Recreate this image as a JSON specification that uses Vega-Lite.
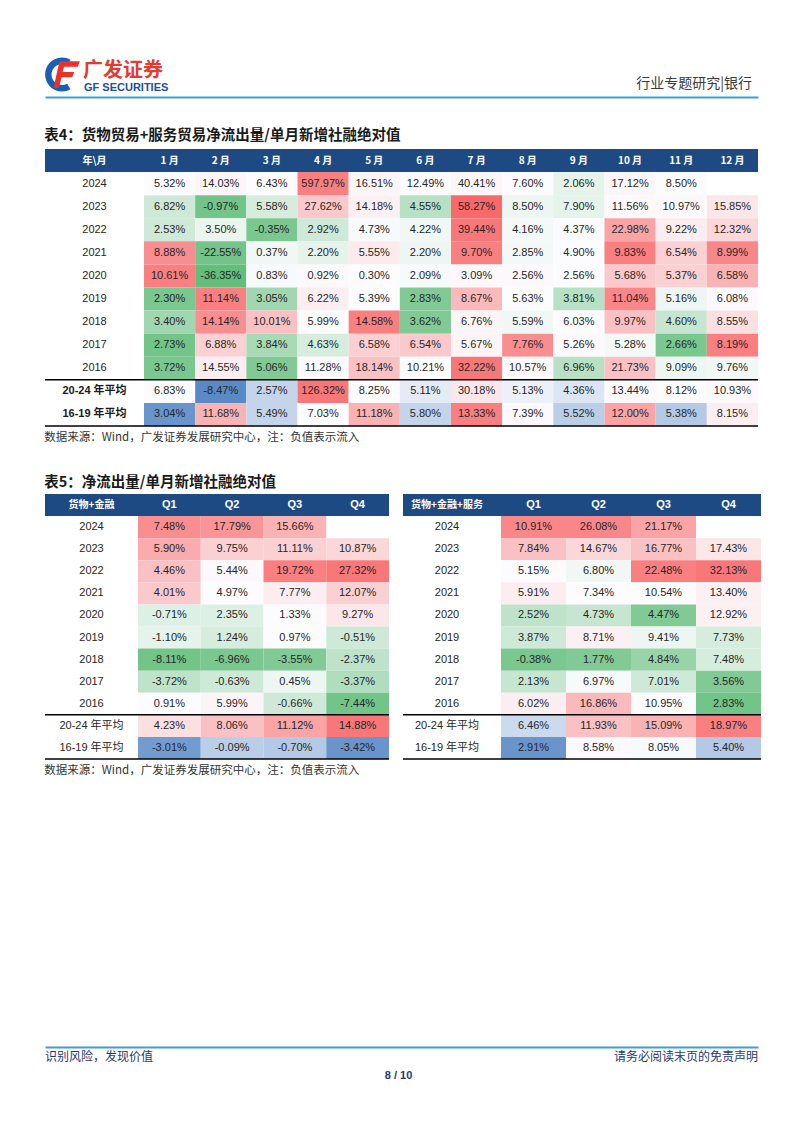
{
"$schema":"https://vega.github.io/schema/vega-lite/v6.json",
"background":"white",
"padding":{"left":44,"top":52,"right":0,"bottom":0},
"config":{"view":{"stroke":null},"locale":{"number":{"decimal":".","thousands":",","grouping":[3],"currency":["$",""],"minus":"-"}},"text":{"font":"Liberation Sans, Noto Sans CJK SC"},"title":{"font":"Noto Sans CJK SC"}},
"datasets":{
"t4":[
{"r":"2024","c":"1 月","v":0.0532,"h":0},{"r":"2024","c":"2 月","v":0.1403,"h":0.04},{"r":"2024","c":"3 月","v":0.0643,"h":0},{"r":"2024","c":"4 月","v":5.9797,"h":0.85},{"r":"2024","c":"5 月","v":0.1651,"h":0.05},{"r":"2024","c":"6 月","v":0.1249,"h":0},{"r":"2024","c":"7 月","v":0.4041,"h":0.04},{"r":"2024","c":"8 月","v":0.076,"h":0},{"r":"2024","c":"9 月","v":0.0206,"h":-0.15},{"r":"2024","c":"10 月","v":0.1712,"h":0.04},{"r":"2024","c":"11 月","v":0.085,"h":0},
{"r":"2023","c":"1 月","v":0.0682,"h":-0.3},{"r":"2023","c":"2 月","v":-0.0097,"h":-0.9},{"r":"2023","c":"3 月","v":0.0558,"h":-0.25},{"r":"2023","c":"4 月","v":0.2762,"h":0.35},{"r":"2023","c":"5 月","v":0.1418,"h":0.08},{"r":"2023","c":"6 月","v":0.0455,"h":-0.45},{"r":"2023","c":"7 月","v":0.5827,"h":1},{"r":"2023","c":"8 月","v":0.085,"h":-0.1},{"r":"2023","c":"9 月","v":0.079,"h":-0.15},{"r":"2023","c":"10 月","v":0.1156,"h":0.03},{"r":"2023","c":"11 月","v":0.1097,"h":0.02},{"r":"2023","c":"12 月","v":0.1585,"h":0.15},
{"r":"2022","c":"1 月","v":0.0253,"h":-0.3},{"r":"2022","c":"2 月","v":0.035,"h":-0.12},{"r":"2022","c":"3 月","v":-0.0035,"h":-0.85},{"r":"2022","c":"4 月","v":0.0292,"h":-0.3},{"r":"2022","c":"5 月","v":0.0473,"h":-0.03},{"r":"2022","c":"6 月","v":0.0422,"h":-0.08},{"r":"2022","c":"7 月","v":0.3944,"h":0.9},{"r":"2022","c":"8 月","v":0.0416,"h":-0.05},{"r":"2022","c":"9 月","v":0.0437,"h":-0.02},{"r":"2022","c":"10 月","v":0.2298,"h":0.6},{"r":"2022","c":"11 月","v":0.0922,"h":0.1},{"r":"2022","c":"12 月","v":0.1232,"h":0.25},
{"r":"2021","c":"1 月","v":0.0888,"h":0.75},{"r":"2021","c":"2 月","v":-0.2255,"h":-0.9},{"r":"2021","c":"3 月","v":0.0037,"h":-0.08},{"r":"2021","c":"4 月","v":0.022,"h":-0.15},{"r":"2021","c":"5 月","v":0.0555,"h":0.12},{"r":"2021","c":"6 月","v":0.022,"h":-0.1},{"r":"2021","c":"7 月","v":0.097,"h":0.85},{"r":"2021","c":"8 月","v":0.0285,"h":-0.05},{"r":"2021","c":"9 月","v":0.049,"h":0},{"r":"2021","c":"10 月","v":0.0983,"h":0.85},{"r":"2021","c":"11 月","v":0.0654,"h":0.3},{"r":"2021","c":"12 月","v":0.0899,"h":0.8},
{"r":"2020","c":"1 月","v":0.1061,"h":0.85},{"r":"2020","c":"2 月","v":-0.3635,"h":-1},{"r":"2020","c":"3 月","v":0.0083,"h":-0.03},{"r":"2020","c":"4 月","v":0.0092,"h":0.02},{"r":"2020","c":"5 月","v":0.003,"h":0},{"r":"2020","c":"6 月","v":0.0209,"h":-0.03},{"r":"2020","c":"7 月","v":0.0309,"h":0.03},{"r":"2020","c":"8 月","v":0.0256,"h":0.02},{"r":"2020","c":"9 月","v":0.0256,"h":0},{"r":"2020","c":"10 月","v":0.0568,"h":0.35},{"r":"2020","c":"11 月","v":0.0537,"h":0.3},{"r":"2020","c":"12 月","v":0.0658,"h":0.5},
{"r":"2019","c":"1 月","v":0.023,"h":-0.85},{"r":"2019","c":"2 月","v":0.1114,"h":0.85},{"r":"2019","c":"3 月","v":0.0305,"h":-0.6},{"r":"2019","c":"4 月","v":0.0622,"h":0.1},{"r":"2019","c":"5 月","v":0.0539,"h":0},{"r":"2019","c":"6 月","v":0.0283,"h":-0.8},{"r":"2019","c":"7 月","v":0.0867,"h":0.45},{"r":"2019","c":"8 月","v":0.0563,"h":0},{"r":"2019","c":"9 月","v":0.0381,"h":-0.45},{"r":"2019","c":"10 月","v":0.1104,"h":0.8},{"r":"2019","c":"11 月","v":0.0516,"h":-0.1},{"r":"2019","c":"12 月","v":0.0608,"h":0.02},
{"r":"2018","c":"1 月","v":0.034,"h":-0.6},{"r":"2018","c":"2 月","v":0.1414,"h":0.75},{"r":"2018","c":"3 月","v":0.1001,"h":0.4},{"r":"2018","c":"4 月","v":0.0599,"h":0},{"r":"2018","c":"5 月","v":0.1458,"h":0.85},{"r":"2018","c":"6 月","v":0.0362,"h":-0.8},{"r":"2018","c":"7 月","v":0.0676,"h":0.05},{"r":"2018","c":"8 月","v":0.0559,"h":-0.08},{"r":"2018","c":"9 月","v":0.0603,"h":0},{"r":"2018","c":"10 月","v":0.0997,"h":0.4},{"r":"2018","c":"11 月","v":0.046,"h":-0.35},{"r":"2018","c":"12 月","v":0.0855,"h":0.2},
{"r":"2017","c":"1 月","v":0.0273,"h":-0.9},{"r":"2017","c":"2 月","v":0.0688,"h":0.3},{"r":"2017","c":"3 月","v":0.0384,"h":-0.55},{"r":"2017","c":"4 月","v":0.0463,"h":-0.25},{"r":"2017","c":"5 月","v":0.0658,"h":0.3},{"r":"2017","c":"6 月","v":0.0654,"h":0.35},{"r":"2017","c":"7 月","v":0.0567,"h":0.05},{"r":"2017","c":"8 月","v":0.0776,"h":0.75},{"r":"2017","c":"9 月","v":0.0526,"h":0.02},{"r":"2017","c":"10 月","v":0.0528,"h":-0.05},{"r":"2017","c":"11 月","v":0.0266,"h":-0.85},{"r":"2017","c":"12 月","v":0.0819,"h":0.85},
{"r":"2016","c":"1 月","v":0.0372,"h":-0.85},{"r":"2016","c":"2 月","v":0.1455,"h":0.1},{"r":"2016","c":"3 月","v":0.0506,"h":-0.8},{"r":"2016","c":"4 月","v":0.1128,"h":0.02},{"r":"2016","c":"5 月","v":0.1814,"h":0.4},{"r":"2016","c":"6 月","v":0.1021,"h":0},{"r":"2016","c":"7 月","v":0.3222,"h":0.9},{"r":"2016","c":"8 月","v":0.1057,"h":0.02},{"r":"2016","c":"9 月","v":0.0696,"h":-0.45},{"r":"2016","c":"10 月","v":0.2173,"h":0.4},{"r":"2016","c":"11 月","v":0.0909,"h":-0.1},{"r":"2016","c":"12 月","v":0.0976,"h":-0.08}
],
"t4a":[
{"r":"20-24 年平均","c":"1 月","v":0.0683,"h":0},{"r":"20-24 年平均","c":"2 月","v":-0.0847,"h":-1},{"r":"20-24 年平均","c":"3 月","v":0.0257,"h":-0.35},{"r":"20-24 年平均","c":"4 月","v":1.2632,"h":0.9},{"r":"20-24 年平均","c":"5 月","v":0.0825,"h":0},{"r":"20-24 年平均","c":"6 月","v":0.0511,"h":-0.15},{"r":"20-24 年平均","c":"7 月","v":0.3018,"h":0.15},{"r":"20-24 年平均","c":"8 月","v":0.0513,"h":-0.1},{"r":"20-24 年平均","c":"9 月","v":0.0436,"h":-0.2},{"r":"20-24 年平均","c":"10 月","v":0.1344,"h":0.02},{"r":"20-24 年平均","c":"11 月","v":0.0812,"h":0},{"r":"20-24 年平均","c":"12 月","v":0.1093,"h":0.03},
{"r":"16-19 年平均","c":"1 月","v":0.0304,"h":-0.9},{"r":"16-19 年平均","c":"2 月","v":0.1168,"h":0.5},{"r":"16-19 年平均","c":"3 月","v":0.0549,"h":-0.35},{"r":"16-19 年平均","c":"4 月","v":0.0703,"h":0},{"r":"16-19 年平均","c":"5 月","v":0.1118,"h":0.5},{"r":"16-19 年平均","c":"6 月","v":0.058,"h":-0.35},{"r":"16-19 年平均","c":"7 月","v":0.1333,"h":0.85},{"r":"16-19 年平均","c":"8 月","v":0.0739,"h":0.03},{"r":"16-19 年平均","c":"9 月","v":0.0552,"h":-0.4},{"r":"16-19 年平均","c":"10 月","v":0.12,"h":0.6},{"r":"16-19 年平均","c":"11 月","v":0.0538,"h":-0.45},{"r":"16-19 年平均","c":"12 月","v":0.0815,"h":0.1}
],
"t5a":[
{"r":"2024","c":"Q1","v":0.0748,"h":0.75},{"r":"2024","c":"Q2","v":0.1779,"h":0.7},{"r":"2024","c":"Q3","v":0.1566,"h":0.5},
{"r":"2023","c":"Q1","v":0.059,"h":0.55},{"r":"2023","c":"Q2","v":0.0975,"h":0.3},{"r":"2023","c":"Q3","v":0.1111,"h":0.3},{"r":"2023","c":"Q4","v":0.1087,"h":0.25},
{"r":"2022","c":"Q1","v":0.0446,"h":0.4},{"r":"2022","c":"Q2","v":0.0544,"h":0.03},{"r":"2022","c":"Q3","v":0.1972,"h":0.85},{"r":"2022","c":"Q4","v":0.2732,"h":0.9},
{"r":"2021","c":"Q1","v":0.0401,"h":0.35},{"r":"2021","c":"Q2","v":0.0497,"h":0},{"r":"2021","c":"Q3","v":0.0777,"h":0.1},{"r":"2021","c":"Q4","v":0.1207,"h":0.3},
{"r":"2020","c":"Q1","v":-0.0071,"h":-0.2},{"r":"2020","c":"Q2","v":0.0235,"h":-0.2},{"r":"2020","c":"Q3","v":0.0133,"h":0},{"r":"2020","c":"Q4","v":0.0927,"h":0.15},
{"r":"2019","c":"Q1","v":-0.011,"h":-0.15},{"r":"2019","c":"Q2","v":0.0124,"h":-0.25},{"r":"2019","c":"Q3","v":0.0097,"h":0},{"r":"2019","c":"Q4","v":-0.0051,"h":-0.3},
{"r":"2018","c":"Q1","v":-0.0811,"h":-0.9},{"r":"2018","c":"Q2","v":-0.0696,"h":-0.85},{"r":"2018","c":"Q3","v":-0.0355,"h":-0.8},{"r":"2018","c":"Q4","v":-0.0237,"h":-0.4},
{"r":"2017","c":"Q1","v":-0.0372,"h":-0.4},{"r":"2017","c":"Q2","v":-0.0063,"h":-0.3},{"r":"2017","c":"Q3","v":0.0045,"h":-0.1},{"r":"2017","c":"Q4","v":-0.0337,"h":-0.5},
{"r":"2016","c":"Q1","v":0.0091,"h":0},{"r":"2016","c":"Q2","v":0.0599,"h":0.05},{"r":"2016","c":"Q3","v":-0.0066,"h":-0.3},{"r":"2016","c":"Q4","v":-0.0744,"h":-0.9}
],
"t5aa":[
{"r":"20-24 年平均","c":"Q1","v":0.0423,"h":0.2},{"r":"20-24 年平均","c":"Q2","v":0.0806,"h":0.4},{"r":"20-24 年平均","c":"Q3","v":0.1112,"h":0.6},{"r":"20-24 年平均","c":"Q4","v":0.1488,"h":0.9},
{"r":"16-19 年平均","c":"Q1","v":-0.0301,"h":-0.85},{"r":"16-19 年平均","c":"Q2","v":-0.0009,"h":-0.4},{"r":"16-19 年平均","c":"Q3","v":-0.007,"h":-0.45},{"r":"16-19 年平均","c":"Q4","v":-0.0342,"h":-0.9}
],
"t5b":[
{"r":"2024","c":"Q1","v":0.1091,"h":0.8},{"r":"2024","c":"Q2","v":0.2608,"h":0.8},{"r":"2024","c":"Q3","v":0.2117,"h":0.6},
{"r":"2023","c":"Q1","v":0.0784,"h":0.4},{"r":"2023","c":"Q2","v":0.1467,"h":0.25},{"r":"2023","c":"Q3","v":0.1677,"h":0.4},{"r":"2023","c":"Q4","v":0.1743,"h":0.15},
{"r":"2022","c":"Q1","v":0.0515,"h":0},{"r":"2022","c":"Q2","v":0.068,"h":-0.08},{"r":"2022","c":"Q3","v":0.2248,"h":0.85},{"r":"2022","c":"Q4","v":0.3213,"h":0.9},
{"r":"2021","c":"Q1","v":0.0591,"h":0.1},{"r":"2021","c":"Q2","v":0.0734,"h":0},{"r":"2021","c":"Q3","v":0.1054,"h":0.01},{"r":"2021","c":"Q4","v":0.134,"h":0.08},
{"r":"2020","c":"Q1","v":0.0252,"h":-0.4},{"r":"2020","c":"Q2","v":0.0473,"h":-0.35},{"r":"2020","c":"Q3","v":0.0447,"h":-0.8},{"r":"2020","c":"Q4","v":0.1292,"h":0.08},
{"r":"2019","c":"Q1","v":0.0387,"h":-0.3},{"r":"2019","c":"Q2","v":0.0871,"h":0.08},{"r":"2019","c":"Q3","v":0.0941,"h":-0.1},{"r":"2019","c":"Q4","v":0.0773,"h":-0.25},
{"r":"2018","c":"Q1","v":-0.0038,"h":-0.85},{"r":"2018","c":"Q2","v":0.0177,"h":-0.8},{"r":"2018","c":"Q3","v":0.0484,"h":-0.65},{"r":"2018","c":"Q4","v":0.0748,"h":-0.25},
{"r":"2017","c":"Q1","v":0.0213,"h":-0.35},{"r":"2017","c":"Q2","v":0.0697,"h":-0.03},{"r":"2017","c":"Q3","v":0.0701,"h":-0.3},{"r":"2017","c":"Q4","v":0.0356,"h":-0.8},
{"r":"2016","c":"Q1","v":0.0602,"h":0.1},{"r":"2016","c":"Q2","v":0.1686,"h":0.45},{"r":"2016","c":"Q3","v":0.1095,"h":0},{"r":"2016","c":"Q4","v":0.0283,"h":-0.9}
],
"t5ba":[
{"r":"20-24 年平均","c":"Q1","v":0.0646,"h":-0.3},{"r":"20-24 年平均","c":"Q2","v":0.1193,"h":0.4},{"r":"20-24 年平均","c":"Q3","v":0.1509,"h":0.5},{"r":"20-24 年平均","c":"Q4","v":0.1897,"h":0.85},
{"r":"16-19 年平均","c":"Q1","v":0.0291,"h":-0.9},{"r":"16-19 年平均","c":"Q2","v":0.0858,"h":0.02},{"r":"16-19 年平均","c":"Q3","v":0.0805,"h":-0.03},{"r":"16-19 年平均","c":"Q4","v":0.054,"h":-0.45}
],
"years":[{"r":"2024"},{"r":"2023"},{"r":"2022"},{"r":"2021"},{"r":"2020"},{"r":"2019"},{"r":"2018"},{"r":"2017"},{"r":"2016"}],
"avgs":[{"r":"20-24 年平均"},{"r":"16-19 年平均"}]
},
"spacing":30,
"vconcat":[
{
"width":713,"height":45,
"layer":[
{"data":{"values":[{"p":"L","t":"logo-ring"}]},"mark":{"type":"point","shape":"M1.5,-0.87 A1,1 0 1 0 1.5,0.87 L1.31,0.54 A0.62,0.62 0 1 1 1.31,-0.54 Z","size":1156,"filled":true,"color":"#1a5fb4","opacity":1,"strokeWidth":0},"encoding":{"x":{"field":"p","type":"nominal","scale":{"type":"point","domain":["L","R"],"padding":0},"axis":{"orient":"bottom","domainColor":"#3d9fd6","domainWidth":2,"labels":false,"ticks":false,"title":null,"grid":false}}}},
{"data":{"values":[{"p":"L","t":"logo-f"}]},"mark":{"type":"point","shape":"M0.85,-0.78 L2.05,-0.78 L1.93,-0.46 L1.12,-0.46 L1.04,-0.14 L1.72,-0.14 L1.6,0.16 L0.97,0.16 L0.82,0.8 L0.5,0.8 Z","size":1156,"filled":true,"color":"#e8332a","opacity":1,"strokeWidth":0},"encoding":{"x":{"field":"p","type":"nominal","scale":{"type":"point","domain":["L","R"],"padding":0},"axis":{"orient":"bottom","domainColor":"#3d9fd6","domainWidth":2,"labels":false,"ticks":false,"title":null,"grid":false}}}},
{"data":{"values":[{"p":"L","t":"广发证券"}]},"mark":{"type":"text","font":"Noto Sans CJK SC","fontWeight":"bold","fontSize":20,"color":"#e23b30","align":"left","baseline":"middle","dx":38,"dy":-4},"encoding":{"x":{"field":"p","type":"nominal","scale":{"type":"point","domain":["L","R"],"padding":0},"axis":{"orient":"bottom","domainColor":"#3d9fd6","domainWidth":2,"labels":false,"ticks":false,"title":null,"grid":false}},"text":{"field":"t"}}},
{"data":{"values":[{"p":"L","t":"GF SECURITIES"}]},"mark":{"type":"text","font":"Liberation Sans","fontWeight":"bold","fontSize":11,"color":"#1d4f9c","align":"left","baseline":"middle","dx":39,"dy":13},"encoding":{"x":{"field":"p","type":"nominal","scale":{"type":"point","domain":["L","R"],"padding":0},"axis":{"orient":"bottom","domainColor":"#3d9fd6","domainWidth":2,"labels":false,"ticks":false,"title":null,"grid":false}},"text":{"field":"t"}}},
{"data":{"values":[{"p":"R","t":"行业专题研究|银行"}]},"mark":{"type":"text","font":"Noto Sans CJK SC","fontSize":14,"color":"#3b3b3b","align":"right","baseline":"middle","dx":-6,"dy":9.5},"encoding":{"x":{"field":"p","type":"nominal","scale":{"type":"point","domain":["L","R"],"padding":0},"axis":{"orient":"bottom","domainColor":"#3d9fd6","domainWidth":2,"labels":false,"ticks":false,"title":null,"grid":false}},"text":{"field":"t"}}}
]
},
{
"title":{"text":"表4：货物贸易+服务贸易净流出量/单月新增社融绝对值","anchor":"start","fontSize":14.5,"fontWeight":"bold","color":"#1a1a1a","offset":6},
"spacing":0,"bounds":"flush",
"hconcat":[
{
"width":99,"height":277,
"title":{"text":"数据来源：Wind，广发证券发展研究中心，注：负值表示流入","orient":"bottom","anchor":"start","fontSize":11.5,"fontWeight":"normal","color":"#333333","offset":5},
"layer":[
{"data":{"values":[{"r":"hdr"}]},"mark":{"type":"rect","color":"#1e4a84"},"encoding":{"y":{"field":"r","type":"nominal","scale":{"type":"band","domain":["hdr","2024","2023","2022","2021","2020","2019","2018","2017","2016","20-24 年平均","16-19 年平均"],"paddingInner":0,"paddingOuter":0},"axis":null}}},
{"data":{"values":[{"r":"hdr","t":"年\\月"}]},"mark":{"type":"text","color":"#ffffff","fontWeight":"bold","fontSize":10,"font":"Noto Sans CJK SC"},"encoding":{"y":{"field":"r","type":"nominal","scale":{"type":"band","domain":["hdr","2024","2023","2022","2021","2020","2019","2018","2017","2016","20-24 年平均","16-19 年平均"],"paddingInner":0,"paddingOuter":0},"axis":null},"text":{"field":"t"}}},
{"data":{"name":"years"},"mark":{"type":"text","color":"#262626","fontSize":11},"encoding":{"y":{"field":"r","type":"nominal","scale":{"type":"band","domain":["hdr","2024","2023","2022","2021","2020","2019","2018","2017","2016","20-24 年平均","16-19 年平均"],"paddingInner":0,"paddingOuter":0},"axis":null},"text":{"field":"r"}}},
{"data":{"name":"avgs"},"mark":{"type":"text","color":"#1a1a1a","fontSize":11,"fontWeight":"bold"},"encoding":{"y":{"field":"r","type":"nominal","scale":{"type":"band","domain":["hdr","2024","2023","2022","2021","2020","2019","2018","2017","2016","20-24 年平均","16-19 年平均"],"paddingInner":0,"paddingOuter":0},"axis":null},"text":{"field":"r"}}},
{"data":{"values":[{"r":"20-24 年平均"}]},"mark":{"type":"rule","color":"#000000","strokeWidth":1.5},"encoding":{"y":{"field":"r","type":"nominal","bandPosition":0,"scale":{"type":"band","domain":["hdr","2024","2023","2022","2021","2020","2019","2018","2017","2016","20-24 年平均","16-19 年平均"],"paddingInner":0,"paddingOuter":0},"axis":null}}},
{"data":{"values":[{"r":"16-19 年平均"}]},"mark":{"type":"rule","color":"#000000","strokeWidth":1.5},"encoding":{"y":{"field":"r","type":"nominal","bandPosition":1,"scale":{"type":"band","domain":["hdr","2024","2023","2022","2021","2020","2019","2018","2017","2016","20-24 年平均","16-19 年平均"],"paddingInner":0,"paddingOuter":0},"axis":null}}}
]
},
{
"width":614,"height":277,
"resolve":{"scale":{"color":"independent"}},
"layer":[
{"data":{"values":[{"r":"hdr"}]},"mark":{"type":"rect","color":"#1e4a84"},"encoding":{"y":{"field":"r","type":"nominal","scale":{"type":"band","domain":["hdr","2024","2023","2022","2021","2020","2019","2018","2017","2016","20-24 年平均","16-19 年平均"],"paddingInner":0,"paddingOuter":0},"axis":null}}},
{"data":{"values":[{"r":"hdr","c":"1 月"},{"r":"hdr","c":"2 月"},{"r":"hdr","c":"3 月"},{"r":"hdr","c":"4 月"},{"r":"hdr","c":"5 月"},{"r":"hdr","c":"6 月"},{"r":"hdr","c":"7 月"},{"r":"hdr","c":"8 月"},{"r":"hdr","c":"9 月"},{"r":"hdr","c":"10 月"},{"r":"hdr","c":"11 月"},{"r":"hdr","c":"12 月"}]},"mark":{"type":"text","color":"#ffffff","fontWeight":"bold","fontSize":10,"font":"Noto Sans CJK SC"},"encoding":{"x":{"field":"c","type":"nominal","scale":{"type":"band","domain":["1 月","2 月","3 月","4 月","5 月","6 月","7 月","8 月","9 月","10 月","11 月","12 月"],"paddingInner":0,"paddingOuter":0},"axis":null},"y":{"field":"r","type":"nominal","scale":{"type":"band","domain":["hdr","2024","2023","2022","2021","2020","2019","2018","2017","2016","20-24 年平均","16-19 年平均"],"paddingInner":0,"paddingOuter":0},"axis":null},"text":{"field":"c"}}},
{"data":{"name":"t4"},"mark":{"type":"rect"},"encoding":{"x":{"field":"c","type":"nominal","scale":{"type":"band","domain":["1 月","2 月","3 月","4 月","5 月","6 月","7 月","8 月","9 月","10 月","11 月","12 月"],"paddingInner":0,"paddingOuter":0},"axis":null},"y":{"field":"r","type":"nominal","scale":{"type":"band","domain":["hdr","2024","2023","2022","2021","2020","2019","2018","2017","2016","20-24 年平均","16-19 年平均"],"paddingInner":0,"paddingOuter":0},"axis":null},"color":{"field":"h","type":"quantitative","scale":{"domain":[-1,0,1],"range":["#63be7b","#fcfcff","#f8696b"],"interpolate":"rgb"},"legend":null}}},
{"data":{"name":"t4a"},"mark":{"type":"rect"},"encoding":{"x":{"field":"c","type":"nominal","scale":{"type":"band","domain":["1 月","2 月","3 月","4 月","5 月","6 月","7 月","8 月","9 月","10 月","11 月","12 月"],"paddingInner":0,"paddingOuter":0},"axis":null},"y":{"field":"r","type":"nominal","scale":{"type":"band","domain":["hdr","2024","2023","2022","2021","2020","2019","2018","2017","2016","20-24 年平均","16-19 年平均"],"paddingInner":0,"paddingOuter":0},"axis":null},"color":{"field":"h","type":"quantitative","scale":{"domain":[-1,0,1],"range":["#5a8ac6","#fcfcff","#f8696b"],"interpolate":"rgb"},"legend":null}}},
{"data":{"name":"t4"},"mark":{"type":"text","fontSize":11,"color":"#262626"},"encoding":{"x":{"field":"c","type":"nominal","scale":{"type":"band","domain":["1 月","2 月","3 月","4 月","5 月","6 月","7 月","8 月","9 月","10 月","11 月","12 月"],"paddingInner":0,"paddingOuter":0},"axis":null},"y":{"field":"r","type":"nominal","scale":{"type":"band","domain":["hdr","2024","2023","2022","2021","2020","2019","2018","2017","2016","20-24 年平均","16-19 年平均"],"paddingInner":0,"paddingOuter":0},"axis":null},"text":{"field":"v","type":"quantitative","format":".2%"}}},
{"data":{"name":"t4a"},"mark":{"type":"text","fontSize":11,"color":"#262626"},"encoding":{"x":{"field":"c","type":"nominal","scale":{"type":"band","domain":["1 月","2 月","3 月","4 月","5 月","6 月","7 月","8 月","9 月","10 月","11 月","12 月"],"paddingInner":0,"paddingOuter":0},"axis":null},"y":{"field":"r","type":"nominal","scale":{"type":"band","domain":["hdr","2024","2023","2022","2021","2020","2019","2018","2017","2016","20-24 年平均","16-19 年平均"],"paddingInner":0,"paddingOuter":0},"axis":null},"text":{"field":"v","type":"quantitative","format":".2%"}}},
{"data":{"values":[{"r":"20-24 年平均"}]},"mark":{"type":"rule","color":"#000000","strokeWidth":1.5},"encoding":{"y":{"field":"r","type":"nominal","bandPosition":0,"scale":{"type":"band","domain":["hdr","2024","2023","2022","2021","2020","2019","2018","2017","2016","20-24 年平均","16-19 年平均"],"paddingInner":0,"paddingOuter":0},"axis":null}}},
{"data":{"values":[{"r":"16-19 年平均"}]},"mark":{"type":"rule","color":"#000000","strokeWidth":1.5},"encoding":{"y":{"field":"r","type":"nominal","bandPosition":1,"scale":{"type":"band","domain":["hdr","2024","2023","2022","2021","2020","2019","2018","2017","2016","20-24 年平均","16-19 年平均"],"paddingInner":0,"paddingOuter":0},"axis":null}}}
]
}
]
},
{
"title":{"text":"表5：净流出量/单月新增社融绝对值","anchor":"start","fontSize":14.5,"fontWeight":"bold","color":"#1a1a1a","offset":4},
"spacing":12,
"hconcat":[
{
"spacing":0,"bounds":"flush",
"hconcat":[
{
"width":93,"height":265,
"title":{"text":"数据来源：Wind，广发证券发展研究中心，注：负值表示流入","orient":"bottom","anchor":"start","fontSize":11.5,"fontWeight":"normal","color":"#333333","offset":5},
"layer":[
{"data":{"values":[{"r":"hdr"}]},"mark":{"type":"rect","color":"#1e4a84"},"encoding":{"y":{"field":"r","type":"nominal","scale":{"type":"band","domain":["hdr","2024","2023","2022","2021","2020","2019","2018","2017","2016","20-24 年平均","16-19 年平均"],"paddingInner":0,"paddingOuter":0},"axis":null}}},
{"data":{"values":[{"r":"hdr","t":"货物+金融"}]},"mark":{"type":"text","color":"#ffffff","fontWeight":"bold","fontSize":10,"font":"Noto Sans CJK SC"},"encoding":{"y":{"field":"r","type":"nominal","scale":{"type":"band","domain":["hdr","2024","2023","2022","2021","2020","2019","2018","2017","2016","20-24 年平均","16-19 年平均"],"paddingInner":0,"paddingOuter":0},"axis":null},"text":{"field":"t"}}},
{"data":{"name":"years"},"mark":{"type":"text","color":"#262626","fontSize":11},"encoding":{"y":{"field":"r","type":"nominal","scale":{"type":"band","domain":["hdr","2024","2023","2022","2021","2020","2019","2018","2017","2016","20-24 年平均","16-19 年平均"],"paddingInner":0,"paddingOuter":0},"axis":null},"text":{"field":"r"}}},
{"data":{"name":"avgs"},"mark":{"type":"text","color":"#262626","fontSize":11},"encoding":{"y":{"field":"r","type":"nominal","scale":{"type":"band","domain":["hdr","2024","2023","2022","2021","2020","2019","2018","2017","2016","20-24 年平均","16-19 年平均"],"paddingInner":0,"paddingOuter":0},"axis":null},"text":{"field":"r"}}},
{"data":{"values":[{"r":"20-24 年平均"}]},"mark":{"type":"rule","color":"#000000","strokeWidth":1.5},"encoding":{"y":{"field":"r","type":"nominal","bandPosition":0,"scale":{"type":"band","domain":["hdr","2024","2023","2022","2021","2020","2019","2018","2017","2016","20-24 年平均","16-19 年平均"],"paddingInner":0,"paddingOuter":0},"axis":null}}},
{"data":{"values":[{"r":"16-19 年平均"}]},"mark":{"type":"rule","color":"#000000","strokeWidth":1.5},"encoding":{"y":{"field":"r","type":"nominal","bandPosition":1,"scale":{"type":"band","domain":["hdr","2024","2023","2022","2021","2020","2019","2018","2017","2016","20-24 年平均","16-19 年平均"],"paddingInner":0,"paddingOuter":0},"axis":null}}}
]
},
{
"width":251,"height":265,
"resolve":{"scale":{"color":"independent"}},
"layer":[
{"data":{"values":[{"r":"hdr"}]},"mark":{"type":"rect","color":"#1e4a84"},"encoding":{"y":{"field":"r","type":"nominal","scale":{"type":"band","domain":["hdr","2024","2023","2022","2021","2020","2019","2018","2017","2016","20-24 年平均","16-19 年平均"],"paddingInner":0,"paddingOuter":0},"axis":null}}},
{"data":{"values":[{"r":"hdr","c":"Q1"},{"r":"hdr","c":"Q2"},{"r":"hdr","c":"Q3"},{"r":"hdr","c":"Q4"}]},"mark":{"type":"text","color":"#ffffff","fontWeight":"bold","fontSize":11,"font":"Liberation Sans"},"encoding":{"x":{"field":"c","type":"nominal","scale":{"type":"band","domain":["Q1","Q2","Q3","Q4"],"paddingInner":0,"paddingOuter":0},"axis":null},"y":{"field":"r","type":"nominal","scale":{"type":"band","domain":["hdr","2024","2023","2022","2021","2020","2019","2018","2017","2016","20-24 年平均","16-19 年平均"],"paddingInner":0,"paddingOuter":0},"axis":null},"text":{"field":"c"}}},
{"data":{"name":"t5a"},"mark":{"type":"rect"},"encoding":{"x":{"field":"c","type":"nominal","scale":{"type":"band","domain":["Q1","Q2","Q3","Q4"],"paddingInner":0,"paddingOuter":0},"axis":null},"y":{"field":"r","type":"nominal","scale":{"type":"band","domain":["hdr","2024","2023","2022","2021","2020","2019","2018","2017","2016","20-24 年平均","16-19 年平均"],"paddingInner":0,"paddingOuter":0},"axis":null},"color":{"field":"h","type":"quantitative","scale":{"domain":[-1,0,1],"range":["#63be7b","#fcfcff","#f8696b"],"interpolate":"rgb"},"legend":null}}},
{"data":{"name":"t5aa"},"mark":{"type":"rect"},"encoding":{"x":{"field":"c","type":"nominal","scale":{"type":"band","domain":["Q1","Q2","Q3","Q4"],"paddingInner":0,"paddingOuter":0},"axis":null},"y":{"field":"r","type":"nominal","scale":{"type":"band","domain":["hdr","2024","2023","2022","2021","2020","2019","2018","2017","2016","20-24 年平均","16-19 年平均"],"paddingInner":0,"paddingOuter":0},"axis":null},"color":{"field":"h","type":"quantitative","scale":{"domain":[-1,0,1],"range":["#5a8ac6","#fcfcff","#f8696b"],"interpolate":"rgb"},"legend":null}}},
{"data":{"name":"t5a"},"mark":{"type":"text","fontSize":11,"color":"#262626"},"encoding":{"x":{"field":"c","type":"nominal","scale":{"type":"band","domain":["Q1","Q2","Q3","Q4"],"paddingInner":0,"paddingOuter":0},"axis":null},"y":{"field":"r","type":"nominal","scale":{"type":"band","domain":["hdr","2024","2023","2022","2021","2020","2019","2018","2017","2016","20-24 年平均","16-19 年平均"],"paddingInner":0,"paddingOuter":0},"axis":null},"text":{"field":"v","type":"quantitative","format":".2%"}}},
{"data":{"name":"t5aa"},"mark":{"type":"text","fontSize":11,"color":"#262626"},"encoding":{"x":{"field":"c","type":"nominal","scale":{"type":"band","domain":["Q1","Q2","Q3","Q4"],"paddingInner":0,"paddingOuter":0},"axis":null},"y":{"field":"r","type":"nominal","scale":{"type":"band","domain":["hdr","2024","2023","2022","2021","2020","2019","2018","2017","2016","20-24 年平均","16-19 年平均"],"paddingInner":0,"paddingOuter":0},"axis":null},"text":{"field":"v","type":"quantitative","format":".2%"}}},
{"data":{"values":[{"r":"20-24 年平均"}]},"mark":{"type":"rule","color":"#000000","strokeWidth":1.5},"encoding":{"y":{"field":"r","type":"nominal","bandPosition":0,"scale":{"type":"band","domain":["hdr","2024","2023","2022","2021","2020","2019","2018","2017","2016","20-24 年平均","16-19 年平均"],"paddingInner":0,"paddingOuter":0},"axis":null}}},
{"data":{"values":[{"r":"16-19 年平均"}]},"mark":{"type":"rule","color":"#000000","strokeWidth":1.5},"encoding":{"y":{"field":"r","type":"nominal","bandPosition":1,"scale":{"type":"band","domain":["hdr","2024","2023","2022","2021","2020","2019","2018","2017","2016","20-24 年平均","16-19 年平均"],"paddingInner":0,"paddingOuter":0},"axis":null}}}
]
}
]
},
{
"spacing":0,"bounds":"flush",
"hconcat":[
{
"width":98,"height":265,
"layer":[
{"data":{"values":[{"r":"hdr"}]},"mark":{"type":"rect","color":"#1e4a84"},"encoding":{"y":{"field":"r","type":"nominal","scale":{"type":"band","domain":["hdr","2024","2023","2022","2021","2020","2019","2018","2017","2016","20-24 年平均","16-19 年平均"],"paddingInner":0,"paddingOuter":0},"axis":null}}},
{"data":{"values":[{"r":"hdr","t":"货物+金融+服务"}]},"mark":{"type":"text","color":"#ffffff","fontWeight":"bold","fontSize":10,"font":"Noto Sans CJK SC","dx":-5},"encoding":{"y":{"field":"r","type":"nominal","scale":{"type":"band","domain":["hdr","2024","2023","2022","2021","2020","2019","2018","2017","2016","20-24 年平均","16-19 年平均"],"paddingInner":0,"paddingOuter":0},"axis":null},"text":{"field":"t"}}},
{"data":{"name":"years"},"mark":{"type":"text","color":"#262626","fontSize":11,"dx":-5},"encoding":{"y":{"field":"r","type":"nominal","scale":{"type":"band","domain":["hdr","2024","2023","2022","2021","2020","2019","2018","2017","2016","20-24 年平均","16-19 年平均"],"paddingInner":0,"paddingOuter":0},"axis":null},"text":{"field":"r"}}},
{"data":{"name":"avgs"},"mark":{"type":"text","color":"#262626","fontSize":11,"dx":-5},"encoding":{"y":{"field":"r","type":"nominal","scale":{"type":"band","domain":["hdr","2024","2023","2022","2021","2020","2019","2018","2017","2016","20-24 年平均","16-19 年平均"],"paddingInner":0,"paddingOuter":0},"axis":null},"text":{"field":"r"}}},
{"data":{"values":[{"r":"20-24 年平均"}]},"mark":{"type":"rule","color":"#000000","strokeWidth":1.5},"encoding":{"y":{"field":"r","type":"nominal","bandPosition":0,"scale":{"type":"band","domain":["hdr","2024","2023","2022","2021","2020","2019","2018","2017","2016","20-24 年平均","16-19 年平均"],"paddingInner":0,"paddingOuter":0},"axis":null}}},
{"data":{"values":[{"r":"16-19 年平均"}]},"mark":{"type":"rule","color":"#000000","strokeWidth":1.5},"encoding":{"y":{"field":"r","type":"nominal","bandPosition":1,"scale":{"type":"band","domain":["hdr","2024","2023","2022","2021","2020","2019","2018","2017","2016","20-24 年平均","16-19 年平均"],"paddingInner":0,"paddingOuter":0},"axis":null}}}
]
},
{
"width":260,"height":265,
"resolve":{"scale":{"color":"independent"}},
"layer":[
{"data":{"values":[{"r":"hdr"}]},"mark":{"type":"rect","color":"#1e4a84"},"encoding":{"y":{"field":"r","type":"nominal","scale":{"type":"band","domain":["hdr","2024","2023","2022","2021","2020","2019","2018","2017","2016","20-24 年平均","16-19 年平均"],"paddingInner":0,"paddingOuter":0},"axis":null}}},
{"data":{"values":[{"r":"hdr","c":"Q1"},{"r":"hdr","c":"Q2"},{"r":"hdr","c":"Q3"},{"r":"hdr","c":"Q4"}]},"mark":{"type":"text","color":"#ffffff","fontWeight":"bold","fontSize":11,"font":"Liberation Sans"},"encoding":{"x":{"field":"c","type":"nominal","scale":{"type":"band","domain":["Q1","Q2","Q3","Q4"],"paddingInner":0,"paddingOuter":0},"axis":null},"y":{"field":"r","type":"nominal","scale":{"type":"band","domain":["hdr","2024","2023","2022","2021","2020","2019","2018","2017","2016","20-24 年平均","16-19 年平均"],"paddingInner":0,"paddingOuter":0},"axis":null},"text":{"field":"c"}}},
{"data":{"name":"t5b"},"mark":{"type":"rect"},"encoding":{"x":{"field":"c","type":"nominal","scale":{"type":"band","domain":["Q1","Q2","Q3","Q4"],"paddingInner":0,"paddingOuter":0},"axis":null},"y":{"field":"r","type":"nominal","scale":{"type":"band","domain":["hdr","2024","2023","2022","2021","2020","2019","2018","2017","2016","20-24 年平均","16-19 年平均"],"paddingInner":0,"paddingOuter":0},"axis":null},"color":{"field":"h","type":"quantitative","scale":{"domain":[-1,0,1],"range":["#63be7b","#fcfcff","#f8696b"],"interpolate":"rgb"},"legend":null}}},
{"data":{"name":"t5ba"},"mark":{"type":"rect"},"encoding":{"x":{"field":"c","type":"nominal","scale":{"type":"band","domain":["Q1","Q2","Q3","Q4"],"paddingInner":0,"paddingOuter":0},"axis":null},"y":{"field":"r","type":"nominal","scale":{"type":"band","domain":["hdr","2024","2023","2022","2021","2020","2019","2018","2017","2016","20-24 年平均","16-19 年平均"],"paddingInner":0,"paddingOuter":0},"axis":null},"color":{"field":"h","type":"quantitative","scale":{"domain":[-1,0,1],"range":["#5a8ac6","#fcfcff","#f8696b"],"interpolate":"rgb"},"legend":null}}},
{"data":{"name":"t5b"},"mark":{"type":"text","fontSize":11,"color":"#262626"},"encoding":{"x":{"field":"c","type":"nominal","scale":{"type":"band","domain":["Q1","Q2","Q3","Q4"],"paddingInner":0,"paddingOuter":0},"axis":null},"y":{"field":"r","type":"nominal","scale":{"type":"band","domain":["hdr","2024","2023","2022","2021","2020","2019","2018","2017","2016","20-24 年平均","16-19 年平均"],"paddingInner":0,"paddingOuter":0},"axis":null},"text":{"field":"v","type":"quantitative","format":".2%"}}},
{"data":{"name":"t5ba"},"mark":{"type":"text","fontSize":11,"color":"#262626"},"encoding":{"x":{"field":"c","type":"nominal","scale":{"type":"band","domain":["Q1","Q2","Q3","Q4"],"paddingInner":0,"paddingOuter":0},"axis":null},"y":{"field":"r","type":"nominal","scale":{"type":"band","domain":["hdr","2024","2023","2022","2021","2020","2019","2018","2017","2016","20-24 年平均","16-19 年平均"],"paddingInner":0,"paddingOuter":0},"axis":null},"text":{"field":"v","type":"quantitative","format":".2%"}}},
{"data":{"values":[{"r":"20-24 年平均"}]},"mark":{"type":"rule","color":"#000000","strokeWidth":1.5},"encoding":{"y":{"field":"r","type":"nominal","bandPosition":0,"scale":{"type":"band","domain":["hdr","2024","2023","2022","2021","2020","2019","2018","2017","2016","20-24 年平均","16-19 年平均"],"paddingInner":0,"paddingOuter":0},"axis":null}}},
{"data":{"values":[{"r":"16-19 年平均"}]},"mark":{"type":"rule","color":"#000000","strokeWidth":1.5},"encoding":{"y":{"field":"r","type":"nominal","bandPosition":1,"scale":{"type":"band","domain":["hdr","2024","2023","2022","2021","2020","2019","2018","2017","2016","20-24 年平均","16-19 年平均"],"paddingInner":0,"paddingOuter":0},"axis":null}}}
]
}
]
}
]
},
{"width":713,"height":210,"data":{"values":[]},"mark":"point"},
{
"width":713,"height":40,
"layer":[
{"data":{"values":[{"p":"L","t":"识别风险，发现价值"}]},"mark":{"type":"text","font":"Noto Sans CJK SC","fontSize":12,"color":"#1f3a70","align":"left","baseline":"middle","dy":-10},"encoding":{"x":{"field":"p","type":"nominal","scale":{"type":"point","domain":["L","C","R"],"padding":0},"axis":{"orient":"top","domainColor":"#3d9fd6","domainWidth":2,"labels":false,"ticks":false,"title":null,"grid":false}},"text":{"field":"t"}}},
{"data":{"values":[{"p":"R","t":"请务必阅读末页的免责声明"}]},"mark":{"type":"text","font":"Noto Sans CJK SC","fontSize":12,"color":"#1f3a70","align":"right","baseline":"middle","dy":-10},"encoding":{"x":{"field":"p","type":"nominal","scale":{"type":"point","domain":["L","C","R"],"padding":0},"axis":{"orient":"top","domainColor":"#3d9fd6","domainWidth":2,"labels":false,"ticks":false,"title":null,"grid":false}},"text":{"field":"t"}}},
{"data":{"values":[{"p":"C","t":"8 / 10"}]},"mark":{"type":"text","font":"Liberation Sans","fontWeight":"bold","fontSize":11,"color":"#1f3a70","align":"center","baseline":"middle","dy":9,"dx":-3},"encoding":{"x":{"field":"p","type":"nominal","scale":{"type":"point","domain":["L","C","R"],"padding":0},"axis":{"orient":"top","domainColor":"#3d9fd6","domainWidth":2,"labels":false,"ticks":false,"title":null,"grid":false}},"text":{"field":"t"}}}
]
}
]
}
